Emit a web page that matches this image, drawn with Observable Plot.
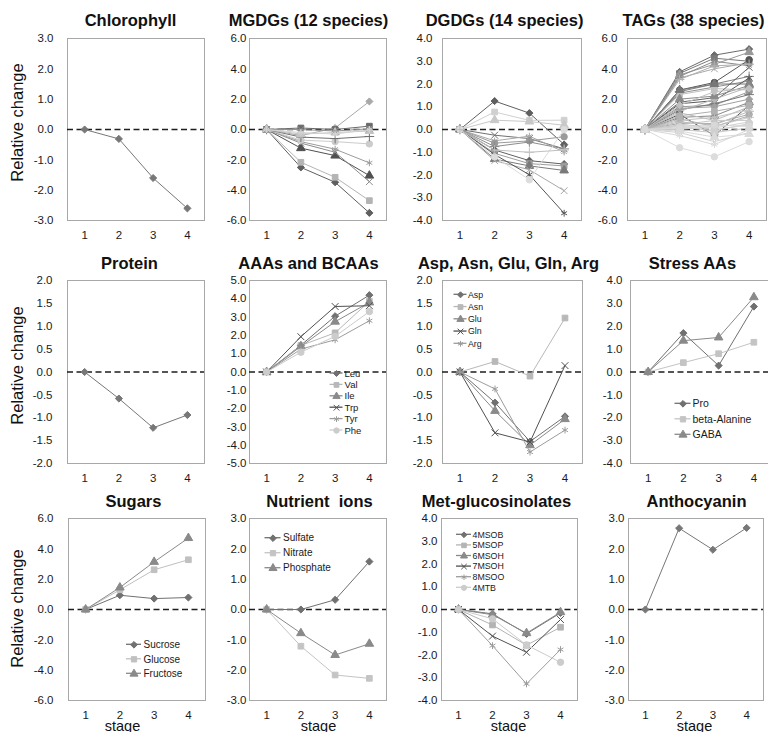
<!DOCTYPE html>
<html><head><meta charset="utf-8">
<script src="https://cdn.jsdelivr.net/npm/d3@7"></script>
<script src="https://cdn.jsdelivr.net/npm/@observablehq/plot@0.6"></script>
<style>
body{margin:0;background:#fff;}
#root{position:relative;width:768px;height:732px;overflow:hidden;background:#fff;}
#root svg{position:absolute;}
</style></head><body><div id="root"></div>
<script>
// ---------- data ----------
const stages = [1, 2, 3, 4];
const ticks3 = [-3, -2, -1, 0, 1, 2, 3];
const ticks4 = [-4, -3, -2, -1, 0, 1, 2, 3, 4];
const ticks5 = [-5, -4, -3, -2, -1, 0, 1, 2, 3, 4, 5];
const ticks6 = [-6, -4, -2, 0, 2, 4, 6];
const ticks2h = [-2, -1.5, -1, -0.5, 0, 0.5, 1, 1.5, 2];

const chlorophyll = [0, -0.31, -1.6, -2.6];
const protein = [0, -0.58, -1.22, -0.94];
const anthocyanin = [0, 2.68, 1.97, 2.69];

const mgdgValues = [
  [0, -2.5, -3.48, -5.5], [0, -2.16, -3.15, -4.69], [0, -1.23, -1.72, -3.04],
  [0, -0.9, -1.5, -3.44], [0, -0.8, -1.3, -2.2], [0, -0.7, -0.8, -0.95],
  [0, -0.5, -0.6, -0.46], [0, -0.4, 0.1, 1.85], [0, 0.1, 0.0, 0.22],
  [0, -0.3, -0.2, -0.1], [0, 0.0, -0.1, 0.05], [0, -0.2, -0.3, 0.0]
];
const mgdgColors = ["#606060","#b4b4b4","#505050","#8c8c8c","#9c9c9c","#cccccc","#707070","#a8a8a8","#6a6a6a","#c4c4c4","#909090","#d4d4d4"];

const dgdgValues = [
  [0, 1.25, 0.72, -0.66], [0, 0.77, 0.4, 0.41], [0, 0.41, 0.35, 0.19],
  [0, -0.25, -0.4, -0.85], [0, -0.5, -0.29, -0.99], [0, -0.6, -0.5, -0.32],
  [0, -0.75, -0.55, -0.85], [0, -0.9, -1.37, -1.52], [0, -1.05, -1.5, -1.6],
  [0, -1.3, -1.6, -1.8], [0, -1.37, -1.77, -2.69], [0, -1.1, -1.99, -3.68],
  [0, -1.2, -2.21, 0.0], [0, -0.9, -1.0, -0.9]
];
const dgdgColors = ["#606060","#d0d0d0","#c8c8c8","#707070","#aaaaaa","#9a9a9a","#8c8c8c","#606060","#9c9c9c","#7a7a7a","#a8a8a8","#555555","#dcdcdc","#c0c0c0"];

const tagValues = [
  [0, 3.8, 4.9, 5.3], [0, 3.7, 4.7, 4.5], [0, 3.6, 4.3, 5.1], [0, 3.4, 4.0, 4.4],
  [0, 3.5, 4.5, 4.2], [0, 2.6, 3.1, 4.6], [0, 2.5, 3.0, 3.5], [0, 2.4, 2.8, 3.2],
  [0, 2.3, 2.7, 2.6], [0, 2.6, 3.0, 3.0], [0, 1.8, 2.1, 4.1], [0, 1.7, 1.9, 3.4],
  [0, 1.5, 1.6, 2.5], [0, 1.3, 1.7, 2.3], [0, 1.2, 2.0, 2.8], [0, 1.0, -0.4, 1.6],
  [0, 0.8, 0.9, 1.8], [0, 1.1, 0.6, 1.5], [0, 0.6, 0.8, 1.3], [0, 0.4, 0.4, 1.0],
  [0, 0.3, 0.2, 0.8], [0, 0.2, 0.1, 0.5], [0, 0.1, 0.0, 0.3], [0, 0.0, -0.2, 0.1],
  [0, -0.2, -0.8, -0.2], [0, -0.4, -1.0, 0.0], [0, -1.2, -1.8, -0.8], [0, 0.5, 0.3, 1.2],
  [0, 1.4, 1.5, 2.0], [0, 0.9, 1.2, 1.6], [0, 2.0, 2.2, 2.9], [0, 0.3, 0.6, 0.6],
  [0, 0.7, 0.2, 0.9], [0, 0.2, -0.1, 0.4], [0, 3.3, 4.2, 4.3], [0, 1.6, 2.5, 2.7],
  [0, 0.1, 0.3, 0.2], [0, -0.1, -0.5, -0.3]
];
const tagColors = ["#6a6a6a","#7a7a7a","#999999","#aaaaaa","#8a8a8a","#555555","#808080","#909090",
  "#c0c0c0","#777777","#666666","#5a5a5a","#999999","#777777","#b8b8b8","#555555",
  "#888888","#bbbbbb","#c4c4c4","#aaaaaa","#cccccc","#d0d0d0","#d4d4d4","#c8c8c8",
  "#d0d0d0","#d8d8d8","#dcdcdc","#bbbbbb","#a0a0a0","#b0b0b0","#8a8a8a","#c8c8c8",
  "#b4b4b4","#d0d0d0","#b0b0b0","#c0c0c0","#d8d8d8","#dadada"];

const aaaNames = ["Leu", "Val", "Ile", "Trp", "Tyr", "Phe"];
const aaaValues = [[0, 1.46, 3.05, 4.2], [0, 1.45, 2.14, 3.86], [0, 1.4, 2.75, 3.8],
  [0, 1.93, 3.58, 3.62], [0, 1.25, 1.76, 2.8], [0, 1.08, 1.95, 3.3]];

const aspNames = ["Asp", "Asn", "Glu", "Gln", "Arg"];
const aspValues = [[0, -0.67, -1.52, -0.97], [0, 0.23, -0.09, 1.18], [0, -0.85, -1.6, -1.03],
  [0, -1.33, -1.53, 0.14], [0, -0.37, -1.75, -1.27]];

const stressNames = ["Pro", "beta-Alanine", "GABA"];
const stressValues = [[0, 1.7, 0.28, 2.86], [0, 0.41, 0.8, 1.3], [0, 1.37, 1.51, 3.27]];

const sugarNames = ["Sucrose", "Glucose", "Fructose"];
const sugarValues = [[0, 0.94, 0.72, 0.79], [0, 1.3, 2.62, 3.28], [0, 1.45, 3.14, 4.71]];

const ionNames = ["Sulfate", "Nitrate", "Phosphate"];
const ionValues = [[0, 0.0, 0.32, 1.58], [0, -1.21, -2.16, -2.27], [0, -0.78, -1.5, -1.13]];

const metNames = ["4MSOB", "5MSOP", "6MSOH", "7MSOH", "8MSOO", "4MTB"];
const metValues = [[0, -0.19, -1.07, -0.15], [0, -0.68, -1.57, -0.78], [0, -0.23, -1.04, -0.12],
  [0, -1.17, -1.88, -0.44], [0, -1.59, -3.27, -1.76], [0, -0.41, -1.56, -2.32]];

// ---------- styles ----------
const symCycle = ["diamond2", "square", "triangle", "times", "asterisk", "circle", "plus"];
const namedColors = ["#707070", "#b8b8b8", "#8a8a8a", "#505050", "#9c9c9c", "#cccccc"];
const FONT = "'Liberation Sans', Arial, Helvetica, sans-serif";

function seriesFrom(valuesArr, names, colors) {
  return valuesArr.map((v, i) => ({
    name: names ? names[i] : "s" + i,
    values: v,
    color: colors[i % colors.length],
    symbol: symCycle[i % symCycle.length]
  }));
}

const panels = [
  { title: "Chlorophyll", col: 0, axisX: 67, top: 38, w: 137, h: 182, yd: [-3, 3], ticks: ticks3, pad: 14, titleX: 130, tb: 25,
    series: seriesFrom([chlorophyll], ["Chlorophyll"], ["#777777"]), ylab: 122 },
  { title: "MGDGs (12 species)", col: 1, axisX: 249, top: 38, w: 137, h: 182, yd: [-6, 6], ticks: ticks6, pad: 3, titleX: 308, tb: 25,
    series: seriesFrom(mgdgValues, null, mgdgColors) },
  { title: "DGDGs (14 species)", col: 2, axisX: 442, top: 38, w: 139, h: 182, yd: [-4, 4], ticks: ticks4, pad: 10, titleX: 504, tb: 25,
    series: seriesFrom(dgdgValues, null, dgdgColors) },
  { title: "TAGs (38 species)", col: 3, axisX: 627, top: 38, w: 139, h: 182, yd: [-6, 6], ticks: ticks6, pad: 10, titleX: 693, tb: 25,
    series: seriesFrom(tagValues, null, tagColors) },
  { title: "Protein", col: 0, axisX: 67, top: 280, w: 137, h: 183, yd: [-2, 2], ticks: ticks2h, pad: 15, titleX: 129, tb: 268,
    series: seriesFrom([protein], ["Protein"], ["#777777"]), ylab: 365 },
  { title: "AAAs and BCAAs", col: 1, axisX: 249, top: 280, w: 137, h: 183, yd: [-5, 5], ticks: ticks5, pad: 3, titleX: 308, tb: 268,
    series: seriesFrom(aaaValues, aaaNames, namedColors),
    legend: { y0: 93, dy: 11.4, lx: 87, lw: 13, tx: 95, fs: 9.5, r: 2.7 } },
  { title: "Asp, Asn, Glu, Gln, Arg", col: 2, axisX: 442, top: 280, w: 140, h: 183, yd: [-2, 2], ticks: ticks2h, pad: 10, titleX: 508, tb: 268,
    series: seriesFrom(aspValues, aspNames, namedColors),
    legend: { y0: 14.3, dy: 12.25, lx: 18, lw: 13, tx: 25.5, fs: 8.8, r: 2.7 } },
  { title: "Stress AAs", col: 3, axisX: 630, top: 280, w: 141, h: 183, yd: [-4, 4], ticks: ticks4, pad: 8, titleX: 692, tb: 268,
    series: seriesFrom(stressValues, stressNames, ["#707070", "#c4c4c4", "#8a8a8a"]),
    legend: { y0: 123.3, dy: 15.5, lx: 52.5, lw: 16, tx: 62, fs: 10.5, r: 3 } },
  { title: "Sugars", col: 0, axisX: 68, top: 518, w: 137, h: 182, yd: [-6, 6], ticks: ticks6, pad: 15, titleX: 133, tb: 506,
    series: seriesFrom(sugarValues, sugarNames, ["#707070", "#c0c0c0", "#8a8a8a"]), ylab: 608, stageX: 122,
    legend: { y0: 126.3, dy: 14.5, lx: 65.5, lw: 15, tx: 75, fs: 10, r: 3 } },
  { title: "Nutrient  ions", col: 1, axisX: 249, top: 518, w: 137, h: 182, yd: [-3, 3], ticks: ticks3, pad: 3, titleX: 319, tb: 506,
    series: seriesFrom(ionValues, ionNames, ["#707070", "#c4c4c4", "#8a8a8a"]), stageX: 318,
    legend: { y0: 19.7, dy: 15, lx: 23.5, lw: 16, tx: 33.5, fs: 10, r: 3 } },
  { title: "Met-glucosinolates", col: 2, axisX: 441, top: 518, w: 136, h: 182, yd: [-4, 4], ticks: ticks4, pad: 4, titleX: 496, tb: 506,
    series: seriesFrom(metValues, metNames, ["#707070", "#b4b4b4", "#8a8a8a", "#505050", "#9c9c9c", "#cccccc"]), stageX: 508,
    legend: { y0: 16.3, dy: 10.6, lx: 22.5, lw: 15, tx: 31, fs: 8.8, r: 2.6 } },
  { title: "Anthocyanin", col: 3, axisX: 628, top: 518, w: 135, h: 182, yd: [-3, 3], ticks: ticks3, pad: 4, titleX: 696, tb: 506,
    series: seriesFrom([anthocyanin], ["Anthocyanin"], ["#777777"]), stageX: 694 }
];

const root = document.getElementById("root");
const fmt = d => (Math.abs(d) < 1e-9 ? 0 : d).toFixed(1);

for (const p of panels) {
  const mL = p.col === 0 ? p.axisX : 50;
  const mT = 34, mR = 8, mB = 34;
  const marks = [];
  marks.push(Plot.frame({ stroke: "#a8a8a8", strokeWidth: 1 }));
  marks.push(Plot.ruleY([0], { stroke: "#1e1e1e", strokeWidth: 1.4, strokeDasharray: "6,3.5" }));
  for (const s of p.series) {
    const rows = s.values.map((v, i) => ({ stage: stages[i], value: v }));
    marks.push(Plot.line(rows, { x: "stage", y: "value", stroke: s.color, strokeWidth: 1 }));
    marks.push(Plot.dot(rows, { x: "stage", y: "value", symbol: s.symbol, r: 3.2, fill: s.color, stroke: s.color, strokeWidth: 1 }));
  }
  marks.push(Plot.axisX({ ticks: stages, tickSize: 0, tickPadding: 10, tickFormat: d => String(d), label: null, fill: "#1a1a1a" }));
  marks.push(Plot.axisY({ ticks: p.ticks, tickSize: 0, tickPadding: p.pad, tickFormat: fmt, label: null, fill: "#1a1a1a" }));
  marks.push(Plot.text([p.title], { text: d => d, frameAnchor: "top", dx: p.titleX - (p.axisX + p.w / 2), dy: -(p.top - p.tb),
    lineAnchor: "bottom", textAnchor: "middle", fontSize: 16.5, fontWeight: "bold", fill: "#111" }));
  if (p.ylab !== undefined) {
    marks.push(Plot.text(["Relative change"], { text: d => d, frameAnchor: "left", dx: -(p.axisX - 17), dy: p.ylab - (p.top + p.h / 2),
      rotate: -90, textAnchor: "middle", lineAnchor: "middle", fontSize: 16.5, fill: "#111" }));
  }
  if (p.stageX !== undefined) {
    marks.push(Plot.text(["stage"], { text: d => d, frameAnchor: "bottom", dx: p.stageX - (p.axisX + p.w / 2), dy: 30,
      lineAnchor: "bottom", textAnchor: "middle", fontSize: 14.5, fill: "#111" }));
  }
  if (p.legend) {
    const L = p.legend;
    p.series.forEach((s, i) => {
      const y = L.y0 + i * L.dy;
      marks.push(Plot.dot([{}], { frameAnchor: "top-left", dx: L.lx, dy: y, symbol: s.symbol, r: L.r, fill: s.color, stroke: s.color, strokeWidth: 1 }));
      marks.push(Plot.text([s.name], { text: d => d, frameAnchor: "top-left", dx: L.tx, dy: y, textAnchor: "start", lineAnchor: "middle", fontSize: L.fs, fill: "#1a1a1a" }));
    });
  }
  const chart = Plot.plot({
    width: mL + p.w + mR,
    height: mT + p.h + mB,
    marginLeft: mL, marginRight: mR, marginTop: mT, marginBottom: mB,
    x: { domain: [0.5, 4.5] },
    y: { domain: p.yd },
    style: { fontFamily: FONT, fontSize: "11.5px", background: "transparent", overflow: "visible", maxWidth: "none", color: "#1a1a1a" },
    marks
  });
  if (p.legend) {
    // legend sample lines, placed just beneath the legend markers
    const L = p.legend;
    const svg = chart.tagName.toLowerCase() === "svg" ? chart : chart.querySelector("svg");
    const firstLegend = svg.children[svg.children.length - 2 * p.series.length];
    p.series.forEach((s, i) => {
      const y = mT + L.y0 + i * L.dy;
      const ln = document.createElementNS("http://www.w3.org/2000/svg", "line");
      ln.setAttribute("x1", mL + L.lx - L.lw / 2);
      ln.setAttribute("x2", mL + L.lx + L.lw / 2);
      ln.setAttribute("y1", y);
      ln.setAttribute("y2", y);
      ln.setAttribute("stroke", s.color);
      ln.setAttribute("stroke-width", "1.3");
      svg.insertBefore(ln, firstLegend || null);
    });
  }
  chart.style.left = (p.axisX - mL) + "px";
  chart.style.top = (p.top - mT) + "px";
  root.appendChild(chart);
}
</script>
</body></html>
